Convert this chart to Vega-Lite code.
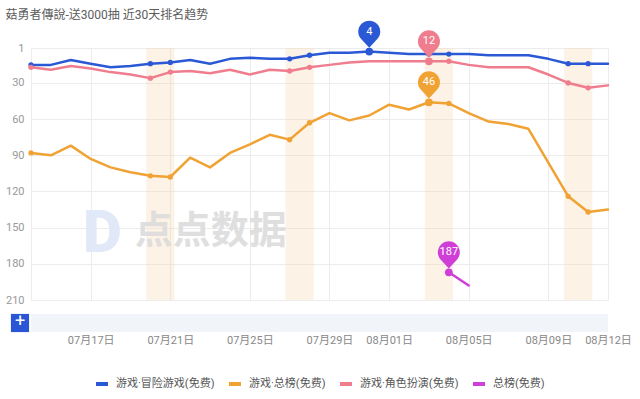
{
  "$schema": "https://vega.github.io/schema/vega-lite/v6.json",
  "background": "white",
  "padding": {"left": 5, "top": 8, "right": 5, "bottom": 5},
  "title": {"text": "菇勇者傳說-送3000抽 近30天排名趋势", "anchor": "start", "frame": "bounds", "fontSize": 12, "fontWeight": "normal", "color": "#5c5c5c", "font": "Roboto, 'Noto Sans CJK SC'", "offset": -1},
  "config": {
    "font": "Roboto, 'Noto Sans CJK SC'",
    "view": {"stroke": null},
    "axis": {"labelFont": "Roboto, 'Noto Sans CJK SC'", "labelOverlap": false},
    "legend": {"labelFont": "Roboto, 'Noto Sans CJK SC'", "layout": {"bottom": {"anchor": "middle"}}}
  },
  "datasets": {
    "ranks": [
      {"date": "2024-07-14", "series": "游戏·冒险游戏(免费)", "rank": 15},
      {"date": "2024-07-15", "series": "游戏·冒险游戏(免费)", "rank": 15},
      {"date": "2024-07-16", "series": "游戏·冒险游戏(免费)", "rank": 11},
      {"date": "2024-07-17", "series": "游戏·冒险游戏(免费)", "rank": 14},
      {"date": "2024-07-18", "series": "游戏·冒险游戏(免费)", "rank": 17},
      {"date": "2024-07-19", "series": "游戏·冒险游戏(免费)", "rank": 16},
      {"date": "2024-07-20", "series": "游戏·冒险游戏(免费)", "rank": 14},
      {"date": "2024-07-21", "series": "游戏·冒险游戏(免费)", "rank": 13},
      {"date": "2024-07-22", "series": "游戏·冒险游戏(免费)", "rank": 11},
      {"date": "2024-07-23", "series": "游戏·冒险游戏(免费)", "rank": 14},
      {"date": "2024-07-24", "series": "游戏·冒险游戏(免费)", "rank": 10},
      {"date": "2024-07-25", "series": "游戏·冒险游戏(免费)", "rank": 9},
      {"date": "2024-07-26", "series": "游戏·冒险游戏(免费)", "rank": 10},
      {"date": "2024-07-27", "series": "游戏·冒险游戏(免费)", "rank": 10},
      {"date": "2024-07-28", "series": "游戏·冒险游戏(免费)", "rank": 7},
      {"date": "2024-07-29", "series": "游戏·冒险游戏(免费)", "rank": 5},
      {"date": "2024-07-30", "series": "游戏·冒险游戏(免费)", "rank": 5},
      {"date": "2024-07-31", "series": "游戏·冒险游戏(免费)", "rank": 4},
      {"date": "2024-08-01", "series": "游戏·冒险游戏(免费)", "rank": 5},
      {"date": "2024-08-02", "series": "游戏·冒险游戏(免费)", "rank": 6},
      {"date": "2024-08-03", "series": "游戏·冒险游戏(免费)", "rank": 6},
      {"date": "2024-08-04", "series": "游戏·冒险游戏(免费)", "rank": 6},
      {"date": "2024-08-05", "series": "游戏·冒险游戏(免费)", "rank": 6},
      {"date": "2024-08-06", "series": "游戏·冒险游戏(免费)", "rank": 7},
      {"date": "2024-08-07", "series": "游戏·冒险游戏(免费)", "rank": 7},
      {"date": "2024-08-08", "series": "游戏·冒险游戏(免费)", "rank": 7},
      {"date": "2024-08-09", "series": "游戏·冒险游戏(免费)", "rank": 10},
      {"date": "2024-08-10", "series": "游戏·冒险游戏(免费)", "rank": 14},
      {"date": "2024-08-11", "series": "游戏·冒险游戏(免费)", "rank": 14},
      {"date": "2024-08-12", "series": "游戏·冒险游戏(免费)", "rank": 14},
      {"date": "2024-07-14", "series": "游戏·总榜(免费)", "rank": 88},
      {"date": "2024-07-15", "series": "游戏·总榜(免费)", "rank": 90},
      {"date": "2024-07-16", "series": "游戏·总榜(免费)", "rank": 82},
      {"date": "2024-07-17", "series": "游戏·总榜(免费)", "rank": 93},
      {"date": "2024-07-18", "series": "游戏·总榜(免费)", "rank": 100},
      {"date": "2024-07-19", "series": "游戏·总榜(免费)", "rank": 104},
      {"date": "2024-07-20", "series": "游戏·总榜(免费)", "rank": 107},
      {"date": "2024-07-21", "series": "游戏·总榜(免费)", "rank": 108},
      {"date": "2024-07-22", "series": "游戏·总榜(免费)", "rank": 92},
      {"date": "2024-07-23", "series": "游戏·总榜(免费)", "rank": 100},
      {"date": "2024-07-24", "series": "游戏·总榜(免费)", "rank": 88},
      {"date": "2024-07-25", "series": "游戏·总榜(免费)", "rank": 81},
      {"date": "2024-07-26", "series": "游戏·总榜(免费)", "rank": 73},
      {"date": "2024-07-27", "series": "游戏·总榜(免费)", "rank": 77},
      {"date": "2024-07-28", "series": "游戏·总榜(免费)", "rank": 63},
      {"date": "2024-07-29", "series": "游戏·总榜(免费)", "rank": 55},
      {"date": "2024-07-30", "series": "游戏·总榜(免费)", "rank": 61},
      {"date": "2024-07-31", "series": "游戏·总榜(免费)", "rank": 57},
      {"date": "2024-08-01", "series": "游戏·总榜(免费)", "rank": 48},
      {"date": "2024-08-02", "series": "游戏·总榜(免费)", "rank": 52},
      {"date": "2024-08-03", "series": "游戏·总榜(免费)", "rank": 46},
      {"date": "2024-08-04", "series": "游戏·总榜(免费)", "rank": 47},
      {"date": "2024-08-05", "series": "游戏·总榜(免费)", "rank": 55},
      {"date": "2024-08-06", "series": "游戏·总榜(免费)", "rank": 62},
      {"date": "2024-08-07", "series": "游戏·总榜(免费)", "rank": 64},
      {"date": "2024-08-08", "series": "游戏·总榜(免费)", "rank": 68},
      {"date": "2024-08-09", "series": "游戏·总榜(免费)", "rank": 96},
      {"date": "2024-08-10", "series": "游戏·总榜(免费)", "rank": 124},
      {"date": "2024-08-11", "series": "游戏·总榜(免费)", "rank": 137},
      {"date": "2024-08-12", "series": "游戏·总榜(免费)", "rank": 135},
      {"date": "2024-07-14", "series": "游戏·角色扮演(免费)", "rank": 17},
      {"date": "2024-07-15", "series": "游戏·角色扮演(免费)", "rank": 19},
      {"date": "2024-07-16", "series": "游戏·角色扮演(免费)", "rank": 16},
      {"date": "2024-07-17", "series": "游戏·角色扮演(免费)", "rank": 18},
      {"date": "2024-07-18", "series": "游戏·角色扮演(免费)", "rank": 21},
      {"date": "2024-07-19", "series": "游戏·角色扮演(免费)", "rank": 23},
      {"date": "2024-07-20", "series": "游戏·角色扮演(免费)", "rank": 26},
      {"date": "2024-07-21", "series": "游戏·角色扮演(免费)", "rank": 21},
      {"date": "2024-07-22", "series": "游戏·角色扮演(免费)", "rank": 20},
      {"date": "2024-07-23", "series": "游戏·角色扮演(免费)", "rank": 22},
      {"date": "2024-07-24", "series": "游戏·角色扮演(免费)", "rank": 19},
      {"date": "2024-07-25", "series": "游戏·角色扮演(免费)", "rank": 23},
      {"date": "2024-07-26", "series": "游戏·角色扮演(免费)", "rank": 19},
      {"date": "2024-07-27", "series": "游戏·角色扮演(免费)", "rank": 20},
      {"date": "2024-07-28", "series": "游戏·角色扮演(免费)", "rank": 17},
      {"date": "2024-07-29", "series": "游戏·角色扮演(免费)", "rank": 15},
      {"date": "2024-07-30", "series": "游戏·角色扮演(免费)", "rank": 13},
      {"date": "2024-07-31", "series": "游戏·角色扮演(免费)", "rank": 12},
      {"date": "2024-08-01", "series": "游戏·角色扮演(免费)", "rank": 12},
      {"date": "2024-08-02", "series": "游戏·角色扮演(免费)", "rank": 12},
      {"date": "2024-08-03", "series": "游戏·角色扮演(免费)", "rank": 12},
      {"date": "2024-08-04", "series": "游戏·角色扮演(免费)", "rank": 12},
      {"date": "2024-08-05", "series": "游戏·角色扮演(免费)", "rank": 15},
      {"date": "2024-08-06", "series": "游戏·角色扮演(免费)", "rank": 17},
      {"date": "2024-08-07", "series": "游戏·角色扮演(免费)", "rank": 17},
      {"date": "2024-08-08", "series": "游戏·角色扮演(免费)", "rank": 17},
      {"date": "2024-08-09", "series": "游戏·角色扮演(免费)", "rank": 23},
      {"date": "2024-08-10", "series": "游戏·角色扮演(免费)", "rank": 30},
      {"date": "2024-08-11", "series": "游戏·角色扮演(免费)", "rank": 34},
      {"date": "2024-08-12", "series": "游戏·角色扮演(免费)", "rank": 32},
      {"date": "2024-08-04", "series": "总榜(免费)", "rank": 187},
      {"date": "2024-08-05", "series": "总榜(免费)", "rank": 198}
    ],
    "weekends": [
      {"start": "2024-07-19T19:00:00Z", "end": "2024-07-21T05:00:00Z"},
      {"start": "2024-07-26T19:00:00Z", "end": "2024-07-28T05:00:00Z"},
      {"start": "2024-08-02T19:00:00Z", "end": "2024-08-04T05:00:00Z"},
      {"start": "2024-08-09T19:00:00Z", "end": "2024-08-11T05:00:00Z"}
    ],
    "pins": [
      {"date": "2024-07-31", "series": "游戏·冒险游戏(免费)", "rank": 4},
      {"date": "2024-08-03", "series": "游戏·角色扮演(免费)", "rank": 12},
      {"date": "2024-08-03", "series": "游戏·总榜(免费)", "rank": 46},
      {"date": "2024-08-04", "series": "总榜(免费)", "rank": 187}
    ],
    "one": [{}]
  },
  "resolve": {"scale": {"color": "shared"}, "legend": {"color": "shared"}},
  "spacing": 8,
  "vconcat": [
    {
      "width": 577,
      "height": 252,
      "layer": [
        {
          "data": {"name": "weekends"},
          "mark": {"type": "rect", "color": "#f8d9b8", "opacity": 0.35},
          "encoding": {
            "x": {
              "field": "start", "type": "temporal",
              "scale": {"type": "utc", "nice": false, "domain": [{"year": 2024, "month": 7, "date": 14, "utc": true}, {"year": 2024, "month": 8, "date": 12, "utc": true}]},
              "axis": {
                "title": null, "labels": false, "ticks": false, "domain": false, "grid": true, "gridColor": "#ececec", "tickCount": 20,
                "values": [
                  {"year": 2024, "month": 7, "date": 14, "utc": true},
                  {"year": 2024, "month": 7, "date": 17, "utc": true},
                  {"year": 2024, "month": 7, "date": 21, "utc": true},
                  {"year": 2024, "month": 7, "date": 25, "utc": true},
                  {"year": 2024, "month": 7, "date": 29, "utc": true},
                  {"year": 2024, "month": 8, "date": 1, "utc": true},
                  {"year": 2024, "month": 8, "date": 5, "utc": true},
                  {"year": 2024, "month": 8, "date": 9, "utc": true},
                  {"year": 2024, "month": 8, "date": 12, "utc": true}
                ]
              }
            },
            "x2": {"field": "end"}
          }
        },
        {
          "data": {"name": "ranks"},
          "mark": {"type": "line", "strokeWidth": 2.5, "strokeJoin": "round", "strokeCap": "round"},
          "encoding": {
            "x": {"field": "date", "type": "temporal"},
            "y": {
              "field": "rank", "type": "quantitative",
              "scale": {"domain": [1, 210], "reverse": true, "nice": false, "zero": false},
              "axis": {"title": null, "values": [1, 30, 60, 90, 120, 150, 180, 210], "tickCount": 12, "domain": false, "ticks": false, "labelPadding": 7, "labelDy": -5, "labelColor": "#999999", "labelFontSize": 11, "gridColor": "#ececec", "labelOverlap": false}
            },
            "color": {
              "field": "series", "type": "nominal",
              "scale": {"domain": ["游戏·冒险游戏(免费)", "游戏·总榜(免费)", "游戏·角色扮演(免费)", "总榜(免费)"], "range": ["#2b59d6", "#f0a233", "#ef7d8e", "#cf3fd8"]},
              "legend": {"title": null, "orient": "bottom", "direction": "horizontal", "symbolType": "stroke", "symbolStrokeWidth": 4, "symbolSize": 144, "labelFontSize": 11, "labelColor": "#555555", "columnPadding": 6, "labelOffset": 6, "offset": 31}
            }
          }
        },
        {
          "data": {"name": "one"},
          "mark": {"type": "text", "text": "D", "fontSize": 60, "fontWeight": 900, "color": "#e1e8f7", "align": "center", "baseline": "middle", "font": "Roboto"},
          "encoding": {
            "x": {"datum": {"year": 2024, "month": 7, "date": 17, "hours": 14, "utc": true}, "type": "temporal"},
            "y": {"datum": 155, "type": "quantitative"}
          }
        },
        {
          "data": {"name": "one"},
          "mark": {"type": "text", "text": "点点数据", "fontSize": 38, "fontWeight": "bold", "color": "#dcdcdc", "opacity": 0.9, "align": "left", "baseline": "middle", "font": "Noto Sans CJK SC"},
          "encoding": {
            "x": {"datum": {"year": 2024, "month": 7, "date": 19, "hours": 5, "utc": true}, "type": "temporal"},
            "y": {"datum": 154, "type": "quantitative"}
          }
        },
        {
          "data": {"name": "ranks"},
          "transform": [{"filter": "utcday(toDate(datum.date)) == 0 || utcday(toDate(datum.date)) == 6"}],
          "mark": {"type": "circle", "size": 28, "opacity": 1},
          "encoding": {
            "x": {"field": "date", "type": "temporal"},
            "y": {"field": "rank", "type": "quantitative"},
            "color": {"field": "series", "type": "nominal", "legend": null}
          }
        },
        {
          "data": {"name": "pins"},
          "mark": {"type": "point", "shape": "M0,-0.35L-0.733,-1.137A1,1,0,1,1,0.733,-1.137Z", "size": 484, "filled": true, "opacity": 1},
          "encoding": {
            "x": {"field": "date", "type": "temporal"},
            "y": {"field": "rank", "type": "quantitative"},
            "color": {"field": "series", "type": "nominal", "legend": null}
          }
        },
        {
          "data": {"name": "pins"},
          "mark": {"type": "circle", "size": 60, "opacity": 1},
          "encoding": {
            "x": {"field": "date", "type": "temporal"},
            "y": {"field": "rank", "type": "quantitative"},
            "color": {"field": "series", "type": "nominal", "legend": null}
          }
        },
        {
          "data": {"name": "pins"},
          "mark": {"type": "text", "dy": -20, "color": "white", "fontSize": 11, "align": "center", "baseline": "middle"},
          "encoding": {
            "x": {"field": "date", "type": "temporal"},
            "y": {"field": "rank", "type": "quantitative"},
            "text": {"field": "rank", "type": "quantitative", "format": "d"}
          }
        }
      ]
    },
    {
      "width": 577,
      "height": 18,
      "data": {"name": "one"},
      "layer": [
        {
          "mark": {"type": "rect", "color": "#f1f4f8"},
          "encoding": {
            "x": {
              "datum": {"year": 2024, "month": 7, "date": 14, "utc": true}, "type": "temporal",
              "scale": {"type": "utc", "nice": false, "domain": [{"year": 2024, "month": 7, "date": 14, "utc": true}, {"year": 2024, "month": 8, "date": 12, "utc": true}]},
              "axis": {
                "title": null, "grid": false, "ticks": false, "domain": false, "format": "%m月%d日", "labelFontSize": 11, "labelColor": "#888888", "labelPadding": 2, "labelFlush": false, "labelOverlap": false, "tickCount": 20,
                "values": [
                  {"year": 2024, "month": 7, "date": 17, "utc": true},
                  {"year": 2024, "month": 7, "date": 21, "utc": true},
                  {"year": 2024, "month": 7, "date": 25, "utc": true},
                  {"year": 2024, "month": 7, "date": 29, "utc": true},
                  {"year": 2024, "month": 8, "date": 1, "utc": true},
                  {"year": 2024, "month": 8, "date": 5, "utc": true},
                  {"year": 2024, "month": 8, "date": 9, "utc": true},
                  {"year": 2024, "month": 8, "date": 12, "utc": true}
                ]
              }
            },
            "x2": {"datum": {"year": 2024, "month": 8, "date": 12, "utc": true}}
          }
        },
        {
          "mark": {"type": "square", "size": 330, "color": "#2a56d6", "opacity": 1, "xOffset": -11},
          "encoding": {"x": {"datum": {"year": 2024, "month": 7, "date": 14, "utc": true}, "type": "temporal"}}
        },
        {
          "mark": {"type": "text", "text": "+", "color": "white", "fontSize": 18, "xOffset": -11, "align": "center", "baseline": "middle", "dy": -1},
          "encoding": {"x": {"datum": {"year": 2024, "month": 7, "date": 14, "utc": true}, "type": "temporal"}}
        }
      ]
    }
  ]
}
